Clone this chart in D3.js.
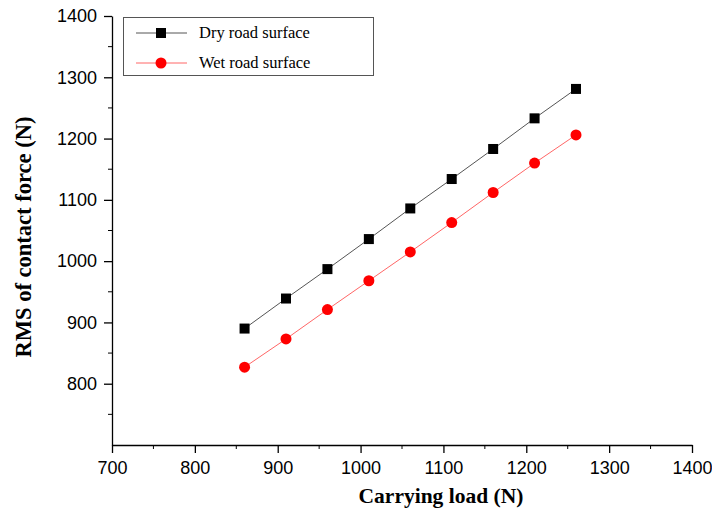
<!DOCTYPE html>
<html>
<head>
<meta charset="utf-8">
<script src="https://cdn.jsdelivr.net/npm/d3@7"></script>
<style>
  body { margin: 0; background: #fff; }
  svg { display: block; }
</style>
</head>
<body>
<div id="chart"></div>
<script>
const loads = [860, 910, 960, 1010, 1060, 1110, 1160, 1210, 1260];
const dryRms = [890, 939, 987, 1036, 1086, 1134, 1183, 1233, 1281];
const wetRms = [827, 873, 921, 968, 1015, 1063, 1112, 1160, 1206];
const xTicks = [700, 800, 900, 1000, 1100, 1200, 1300, 1400];
const yTicks = [800, 900, 1000, 1100, 1200, 1300, 1400];

const width = 712, height = 513;
const plot = { left: 112, right: 692, top: 16, bottom: 445 };

const svg = d3.select("#chart").append("svg")
  .attr("width", width)
  .attr("height", height);

const x = d3.scaleLinear().domain([700, 1400]).range([plot.left, plot.right]);
const y = d3.scaleLinear().domain([700, 1400]).range([plot.bottom, plot.top]);
const fmt = d3.format("d");

// axes
const xAxis = svg.append("g")
  .attr("transform", `translate(0,${plot.bottom})`)
  .call(d3.axisBottom(x).tickValues(xTicks).tickFormat(fmt)
    .tickSize(8).tickPadding(8).tickSizeOuter(0));
xAxis.append("g").selectAll("line")
  .data(d3.range(750, 1400, 100))
  .enter().append("line")
  .attr("x1", d => x(d)).attr("x2", d => x(d))
  .attr("y1", 0).attr("y2", 4)
  .attr("stroke", "#000");

const yAxis = svg.append("g")
  .attr("transform", `translate(${plot.left},0)`)
  .call(d3.axisLeft(y).tickValues(yTicks).tickFormat(fmt)
    .tickSize(8).tickPadding(7).tickSizeOuter(0));
yAxis.append("g").selectAll("line")
  .data(d3.range(750, 1400, 100))
  .enter().append("line")
  .attr("y1", d => y(d)).attr("y2", d => y(d))
  .attr("x1", 0).attr("x2", -4)
  .attr("stroke", "#000");

svg.selectAll(".domain").attr("stroke", "#000").attr("stroke-width", 1.3);
svg.selectAll(".tick line").attr("stroke-width", 1.3);
svg.selectAll(".tick text")
  .attr("font-family", "Liberation Sans, Arial, sans-serif")
  .attr("font-size", 18)
  .attr("fill", "#000");

// axis titles
svg.append("text")
  .attr("x", 441)
  .attr("y", 503)
  .attr("text-anchor", "middle")
  .attr("font-family", "Liberation Serif, Times New Roman, serif")
  .attr("font-weight", "bold")
  .attr("font-size", 21.5)
  .text("Carrying load (N)");

svg.append("text")
  .attr("transform", "translate(31,237) rotate(-90)")
  .attr("text-anchor", "middle")
  .attr("font-family", "Liberation Serif, Times New Roman, serif")
  .attr("font-weight", "bold")
  .attr("font-size", 22.5)
  .text("RMS of contact force (N)");

// series
const series = [
  { name: "Dry road surface", values: dryRms, line: "#555", fill: "#000", shape: "square" },
  { name: "Wet road surface", values: wetRms, line: "#ff6666", fill: "#ff0000", shape: "circle" }
];

const line = d3.line().x(d => x(d[0])).y(d => y(d[1]));

series.forEach(s => {
  const pts = loads.map((l, i) => [l, s.values[i]]);
  svg.append("path")
    .datum(pts)
    .attr("d", line)
    .attr("fill", "none")
    .attr("stroke", s.line)
    .attr("stroke-width", 1);

  if (s.shape === "square") {
    svg.selectAll(null).data(pts).enter().append("rect")
      .attr("x", d => x(d[0]) - 5)
      .attr("y", d => y(d[1]) - 5)
      .attr("width", 10).attr("height", 10)
      .attr("fill", s.fill);
  } else {
    svg.selectAll(null).data(pts).enter().append("circle")
      .attr("cx", d => x(d[0]))
      .attr("cy", d => y(d[1]))
      .attr("r", 5.5)
      .attr("fill", s.fill);
  }
});

// legend
const legend = svg.append("g");
legend.append("rect")
  .attr("x", 123.5).attr("y", 17.5)
  .attr("width", 250).attr("height", 58)
  .attr("fill", "#fff")
  .attr("stroke", "#555")
  .attr("stroke-width", 1);

series.forEach((s, i) => {
  const ly = 33 + i * 30;
  legend.append("line")
    .attr("x1", 136).attr("x2", 187)
    .attr("y1", ly).attr("y2", ly)
    .attr("stroke", s.line);
  if (s.shape === "square") {
    legend.append("rect")
      .attr("x", 156).attr("y", ly - 5)
      .attr("width", 10).attr("height", 10)
      .attr("fill", s.fill);
  } else {
    legend.append("circle")
      .attr("cx", 161).attr("cy", ly).attr("r", 5.5)
      .attr("fill", s.fill);
  }
  legend.append("text")
    .attr("x", 199).attr("y", ly + 5)
    .attr("font-family", "Liberation Serif, Times New Roman, serif")
    .attr("font-size", 16.5)
    .text(s.name);
});
</script>
</body>
</html>
